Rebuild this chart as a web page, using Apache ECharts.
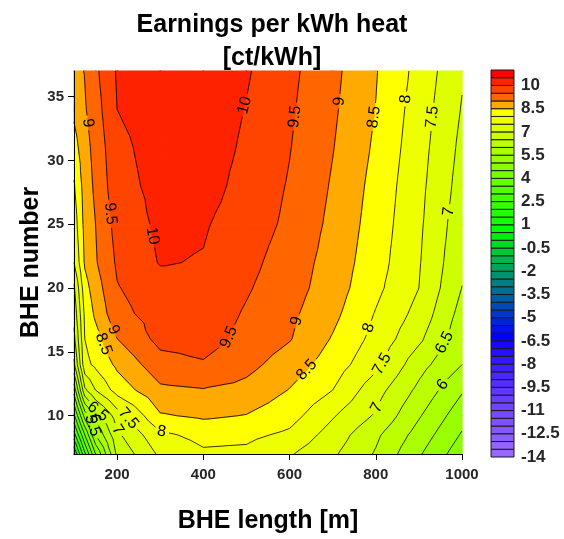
<!DOCTYPE html>
<html><head><meta charset="utf-8">
<script src="https://cdn.jsdelivr.net/npm/echarts@6/dist/echarts.min.js"></script>
<style>html,body{margin:0;padding:0;background:#fff}#c{width:564px;height:539px}</style>
</head><body><div id="c"></div>
<script>
// ---- data ----
const xValues = [100,125,150,200,300,400,500,600,700,800,900,1000];   // BHE length [m]
const yValues = [7,8.5,10,12,14,16,18,20,22,25,28,31,34,37];          // BHE number
// earnings[j][i] : value at yValues[j], xValues[i]  (ct/kWh)
const earnings = [
  [1.0, 2.9, 4.5, 6.6, 7.6, 7.92, 7.88, 7.55, 7.08, 6.45, 5.56, 4.7],
  [2.3, 4.0, 5.5, 6.9, 7.9, 8.15, 8.12, 7.9, 7.28, 6.6, 5.8, 4.95],
  [3.4, 5.2, 6.2, 7.25, 8.45, 8.58, 8.48, 8.2, 7.55, 6.94, 6.05, 5.2],
  [4.7, 6.9, 7.5, 8.2, 8.9, 8.97, 8.85, 8.48, 8.0, 7.2, 6.38, 5.55],
  [5.9, 7.85, 8.1, 8.6, 9.3, 9.45, 9.15, 8.75, 8.26, 7.63, 6.69, 6.0],
  [6.36, 8.0, 8.3, 8.99, 9.65, 9.7, 9.35, 9.03, 8.46, 7.84, 7.1, 6.16],
  [6.67, 8.1, 8.6, 9.35, 9.72, 9.78, 9.45, 9.11, 8.63, 7.97, 7.34, 6.32],
  [6.92, 8.3, 8.77, 9.47, 9.8, 9.85, 9.55, 9.21, 8.75, 8.12, 7.5, 6.49],
  [7.5, 8.56, 8.95, 9.57, 10.03, 9.97, 9.64, 9.27, 8.8, 8.21, 7.54, 6.6],
  [7.73, 8.65, 9.0, 9.68, 10.1, 10.05, 9.75, 9.4, 8.88, 8.28, 7.59, 6.7],
  [7.95, 8.72, 9.1, 9.82, 10.15, 10.2, 9.83, 9.46, 8.95, 8.34, 7.64, 6.8],
  [8.3, 8.8, 9.18, 9.88, 10.2, 10.25, 9.92, 9.52, 9.02, 8.42, 7.7, 6.88],
  [8.6, 8.95, 9.29, 10.0, 10.25, 10.3, 9.98, 9.57, 9.08, 8.49, 7.76, 6.97],
  [8.85, 9.02, 9.4, 10.05, 10.3, 10.35, 10.05, 9.62, 9.13, 8.53, 7.84, 7.05]
];
// contour band edges (colour scale)
const bandEdges = [-14,-13.5,-13,-12.5,-12,-11.5,-11,-10.5,-10,-9.5,-9,-8.5,-8,-7.5,-7,-6.5,-6,-5.5,-5,-4.5,-4,-3.5,-3,-2.5,-2,-1.5,-1,-0.5,0,0.5,1,1.5,2,2.5,3,3.5,4,4.5,5,5.5,6,6.5,7,7.5,8,8.5,9,9.5,10,10.5,11];
const bandColors = ['#9966ff','#9362ff','#8c5dff','#8557ff','#7e51ff','#764bff','#6e44ff','#663dff','#5d36ff','#542eff','#4a27ff','#401fff','#3417ff','#270fff','#1807ff',
  '#0000ff','#0012ed','#0024db','#0036c9','#0049b6','#005ba4','#006d92','#007f80','#00916e','#00a45b','#00b649','#00c837','#00da25','#00ec12','#00ff00',
  '#11ff00','#22ff00','#33ff00','#44ff00','#55ff00','#66ff00','#77ff00','#88ff00','#99ff00','#aaff00','#bbff00','#ccff00','#ddff00','#eeff00',
  '#ffff00','#ffaa00','#ff6600','#ff4400','#ff2200','#ff0000'];
const xTicks = [200,400,600,800,1000];
const yTicks = [10,15,20,25,30,35];
const colorbarTicks = [-14,-12.5,-11,-9.5,-8,-6.5,-5,-3.5,-2,-0.5,1,2.5,4,5.5,7,8.5,10];
// contour labels: [x, y, level]
const contourLabels = [[121,32.9,9],[177,25.8,9.5],[199,23.5,10],[497,34.3,10],[617,33.4,9.5],[724,34.6,9],
  [794,33.4,8.5],[870,34.8,8],[933,33.4,7.5],[965,26,7],[462,16.1,9.5],[617,17.4,9],[643,13.5,8.5],[782,16.9,8],
  [817,14.0,7.5],[803,10.6,7],[956,15.8,6.5],[956,12.4,6],[304,8.9,8],[155,15.5,8.5],[175,16.5,9],[223,9.7,7.5],
  [202,8.9,7],[155,10.3,6.5],[140,9.6,6],[130,9.0,5.5]];

const FONT = 'Arial, "Liberation Sans", Helvetica, sans-serif';
const LABEL_SIZE = 16;

// ---- geometry helpers ----
function cellTriangles(api, i, j) {
  const x0 = xValues[i], x1 = xValues[i+1], y0 = yValues[j], y1 = yValues[j+1];
  const p00 = api.coord([x0,y0]), p10 = api.coord([x1,y0]), p11 = api.coord([x1,y1]), p01 = api.coord([x0,y1]);
  const v00 = earnings[j][i], v10 = earnings[j][i+1], v11 = earnings[j+1][i+1], v01 = earnings[j+1][i];
  const M = {p:[(p00[0]+p11[0])/2,(p00[1]+p11[1])/2], v:(v00+v10+v11+v01)/4};
  const A = {p:p00,v:v00}, B = {p:p10,v:v10}, C = {p:p11,v:v11}, D = {p:p01,v:v01};
  return [[A,B,M],[B,C,M],[C,D,M],[D,A,M]];
}
function clipPoly(poly, level, keepAbove) {
  const out = [], n = poly.length;
  for (let k = 0; k < n; k++) {
    const a = poly[k], b = poly[(k+1)%n];
    const ina = keepAbove ? a.v >= level : a.v <= level;
    const inb = keepAbove ? b.v >= level : b.v <= level;
    if (ina) out.push(a);
    if (ina !== inb) {
      const t = (level - a.v) / (b.v - a.v);
      out.push({p:[a.p[0]+t*(b.p[0]-a.p[0]), a.p[1]+t*(b.p[1]-a.p[1])], v:level});
    }
  }
  return out;
}
function triVal(P, s, t) {
  const a = P[0], b = P[1], c = P[2];
  const det = (b[1]-c[1])*(a[0]-c[0]) + (c[0]-b[0])*(a[1]-c[1]);
  const l1 = ((b[1]-c[1])*(s-c[0]) + (c[0]-b[0])*(t-c[1])) / det;
  const l2 = ((c[1]-a[1])*(s-c[0]) + (a[0]-c[0])*(t-c[1])) / det;
  return l1*a[2] + l2*b[2] + (1-l1-l2)*c[2];
}
function field(x, y) {
  x = Math.min(Math.max(x, xValues[0]), xValues[xValues.length-1]);
  y = Math.min(Math.max(y, yValues[0]), yValues[yValues.length-1]);
  let i = 0; while (i < xValues.length-2 && x > xValues[i+1]) i++;
  let j = 0; while (j < yValues.length-2 && y > yValues[j+1]) j++;
  const s = (x-xValues[i])/(xValues[i+1]-xValues[i]), t = (y-yValues[j])/(yValues[j+1]-yValues[j]);
  const v00 = earnings[j][i], v10 = earnings[j][i+1], v11 = earnings[j+1][i+1], v01 = earnings[j+1][i];
  const A=[0,0,v00], B=[1,0,v10], C=[1,1,v11], D=[0,1,v01], M=[0.5,0.5,(v00+v10+v11+v01)/4];
  let P;
  if (t <= s && t <= 1-s) P = [A,B,M];
  else if (s >= t && s >= 1-t) P = [B,C,M];
  else if (t >= s && t >= 1-s) P = [C,D,M];
  else P = [D,A,M];
  return triVal(P, s, t);
}
function textWidth(str) {
  let w = 0;
  for (const ch of str) w += (ch === '.' ? 0.278 : 0.556);
  return w * LABEL_SIZE;
}
let labelCache = null;
function labelGeometry(api) {
  if (labelCache) return labelCache;
  const xl = xValues[xValues.length-1], yl = yValues[yValues.length-1];
  const o = api.coord([xValues[0], yValues[0]]);
  const ex = api.coord([xl, yValues[0]]);
  const ey = api.coord([xValues[0], yl]);
  const sx = (ex[0]-o[0])/(xl-xValues[0]);
  const sy = (o[1]-ey[1])/(yl-yValues[0]);
  labelCache = contourLabels.map(function (lab) {
    let x = lab[0], y = lab[1]; const L = lab[2];
    let gU = 0, gV = 1;
    for (let it = 0; it < 10; it++) {
      const hx = 0.6/sx, hy = 0.6/sy;
      const f = field(x, y);
      const fx = (field(x+hx,y)-field(x-hx,y))/(2*hx);
      const fy = (field(x,y+hy)-field(x,y-hy))/(2*hy);
      gU = fx/sx; gV = fy/sy;
      const g2 = gU*gU + gV*gV;
      if (g2 < 1e-12) break;
      if (Math.abs(L-f) < 1e-5) break;
      const d = (L-f)/g2;
      x += d*gU/sx; y += d*gV/sy;
      x = Math.min(Math.max(x, xValues[0]+1), xl-1);
      y = Math.min(Math.max(y, yValues[0]+0.05), yl-0.05);
    }
    let ang = Math.atan2(gU, -gV);
    while (ang >= Math.PI/2) ang -= Math.PI;
    while (ang < -Math.PI/2) ang += Math.PI;
    const p = api.coord([x, y]);
    const text = String(L);
    return {px:p[0], py:p[1], L:L, ang:ang, text:text, r:textWidth(text)/2 + 3};
  });
  return labelCache;
}
function addSegment(children, p, q, L, labs) {
  let pieces = [[0,1]];
  const dx = q[0]-p[0], dy = q[1]-p[1];
  const a = dx*dx + dy*dy;
  if (a < 1e-9) return;
  for (const lb of labs) {
    if (lb.L !== L) continue;
    const fx = p[0]-lb.px, fy = p[1]-lb.py;
    const b = 2*(fx*dx+fy*dy), c = fx*fx+fy*fy-lb.r*lb.r;
    const disc = b*b - 4*a*c;
    if (disc <= 0) continue;
    const sq = Math.sqrt(disc);
    const t1 = (-b-sq)/(2*a), t2 = (-b+sq)/(2*a);
    const np = [];
    for (const pc of pieces) {
      if (t2 <= pc[0] || t1 >= pc[1]) { np.push(pc); continue; }
      if (t1 > pc[0]) np.push([pc[0], t1]);
      if (t2 < pc[1]) np.push([t2, pc[1]]);
    }
    pieces = np;
  }
  for (const pc of pieces) {
    children.push({type:'line', silent:true,
      shape:{x1:p[0]+pc[0]*dx, y1:p[1]+pc[0]*dy, x2:p[0]+pc[1]*dx, y2:p[1]+pc[1]*dy},
      style:{stroke:'#000', lineWidth:0.8}});
  }
}

// cells built from the grid arrays
const cells = [];
for (let j = 0; j < yValues.length-1; j++)
  for (let i = 0; i < xValues.length-1; i++)
    cells.push([(xValues[i]+xValues[i+1])/2, (yValues[j]+yValues[j+1])/2, i, j]);
const colorCells = bandColors.map(function (c, b) { return [0.5, (bandEdges[b]+bandEdges[b+1])/2, b]; });

const chart = echarts.init(document.getElementById('c'), null, {renderer:'canvas'});
const option = {
  animation: false,
  backgroundColor: '#fff',
  graphic: [
    {type:'text', x:272, y:25.5, z:100, style:{text:'Earnings per kWh heat', font:'bold 25px ' + FONT, fill:'#000', align:'center', verticalAlign:'middle', textAlign:'center', textVerticalAlign:'middle'}},
    {type:'text', x:272, y:58.5, z:100, style:{text:'[ct/kWh]', font:'bold 25px ' + FONT, fill:'#000', align:'center', verticalAlign:'middle', textAlign:'center', textVerticalAlign:'middle'}}
  ],
  grid: [
    {left:74, top:71, width:388, height:385},
    {left:491, top:70, width:23, height:387}
  ],
  xAxis: [
    {type:'value', gridIndex:0, min:100, max:1000, z:10,
     axisLine:{show:true, onZero:false, lineStyle:{color:'#000', width:1}},
     axisTick:{show:true, customValues:xTicks, length:6, lineStyle:{color:'#000'}},
     axisLabel:{customValues:xTicks, formatter:function (v) { return String(v); }, fontSize:15, fontWeight:'bold', color:'#262626', margin:13, fontFamily:FONT},
     splitLine:{show:false},
     name:'BHE length [m]', nameLocation:'middle', nameGap:55, nameMoveOverlap:false,
     nameTextStyle:{fontSize:25, fontWeight:'bold', color:'#000', fontFamily:FONT}},
    {type:'value', gridIndex:1, min:0, max:1, show:false}
  ],
  yAxis: [
    {type:'value', gridIndex:0, min:7, max:37, z:10,
     axisLine:{show:true, onZero:false, lineStyle:{color:'#000', width:1}},
     axisTick:{show:true, customValues:yTicks, length:6, lineStyle:{color:'#000'}},
     axisLabel:{customValues:yTicks, formatter:function (v) { return String(v); }, fontSize:15, fontWeight:'bold', color:'#262626', margin:10, fontFamily:FONT},
     splitLine:{show:false},
     name:'BHE number', nameLocation:'middle', nameGap:30, nameRotate:90, nameMoveOverlap:false,
     nameTextStyle:{fontSize:25, fontWeight:'bold', color:'#000', fontFamily:FONT}},
    {type:'value', gridIndex:1, min:-14, max:11, interval:0.5, position:'right',
     axisLine:{show:false}, axisTick:{show:false}, splitLine:{show:false},
     axisLabel:{customValues:colorbarTicks, formatter:function (v) { return String(v); }, fontSize:17, fontWeight:'bold', color:'#262626', margin:7, fontFamily:FONT}}
  ],
  series: [
    { // filled contour bands
      type:'custom', xAxisIndex:0, yAxisIndex:0, z:2, silent:true,
      encode:{x:0, y:1},
      data: cells,
      renderItem: function (params, api) {
        const i = api.value(2), j = api.value(3);
        const children = [];
        for (const tri of cellTriangles(api, i, j)) {
          const vs = tri.map(function (q) { return q.v; });
          const vmin = Math.min.apply(null, vs), vmax = Math.max.apply(null, vs);
          for (let b = 0; b < bandColors.length; b++) {
            const lo = bandEdges[b], hi = bandEdges[b+1];
            if (hi < vmin || lo > vmax) continue;
            let poly = clipPoly(tri, lo, true); if (poly.length < 3) continue;
            poly = clipPoly(poly, hi, false); if (poly.length < 3) continue;
            children.push({type:'polygon', silent:true, shape:{points:poly.map(function (q) { return q.p; })},
              style:{fill:bandColors[b], stroke:bandColors[b], lineWidth:1.2, lineJoin:'round'}});
          }
        }
        return {type:'group', children:children};
      }
    },
    { // contour lines
      type:'custom', xAxisIndex:0, yAxisIndex:0, z:3, silent:true,
      encode:{x:0, y:1},
      data: cells,
      renderItem: function (params, api) {
        const i = api.value(2), j = api.value(3);
        const labs = labelGeometry(api);
        const children = [];
        for (const tri of cellTriangles(api, i, j)) {
          const vs = tri.map(function (q) { return q.v; });
          const vmin = Math.min.apply(null, vs), vmax = Math.max.apply(null, vs);
          for (const L of bandEdges) {
            if (L <= vmin || L >= vmax) continue;
            const pts = [];
            for (let k = 0; k < 3; k++) {
              const a = tri[k], b = tri[(k+1)%3];
              if ((a.v < L) !== (b.v < L)) {
                const t = (L-a.v)/(b.v-a.v);
                pts.push([a.p[0]+t*(b.p[0]-a.p[0]), a.p[1]+t*(b.p[1]-a.p[1])]);
              }
            }
            if (pts.length >= 2) addSegment(children, pts[0], pts[1], L, labs);
          }
        }
        return {type:'group', children:children};
      }
    },
    { // contour labels
      type:'custom', xAxisIndex:0, yAxisIndex:0, z:4, silent:true,
      encode:{x:0, y:1},
      data: contourLabels.map(function (l, k) { return [l[0], l[1], k]; }),
      renderItem: function (params, api) {
        const lb = labelGeometry(api)[api.value(2)];
        return {type:'text', x:lb.px, y:lb.py, rotation:lb.ang, silent:true,
          style:{text:lb.text, font:LABEL_SIZE + 'px ' + FONT, fill:'#000',
            align:'center', verticalAlign:'middle', textAlign:'center', textVerticalAlign:'middle'}};
      }
    },
    { // colour bar
      type:'custom', xAxisIndex:1, yAxisIndex:1, z:2, silent:true,
      encode:{x:0, y:1},
      data: colorCells,
      renderItem: function (params, api) {
        const b = api.value(2);
        const p1 = api.coord([0, bandEdges[b]]), p2 = api.coord([1, bandEdges[b+1]]);
        return {type:'rect', silent:true,
          shape:{x:p1[0], y:p2[1], width:p2[0]-p1[0], height:p1[1]-p2[1]},
          style:{fill:bandColors[b], stroke:'#1a1a1a', lineWidth:1}};
      }
    }
  ]
};
chart.setOption(option);
</script>
</body></html>
